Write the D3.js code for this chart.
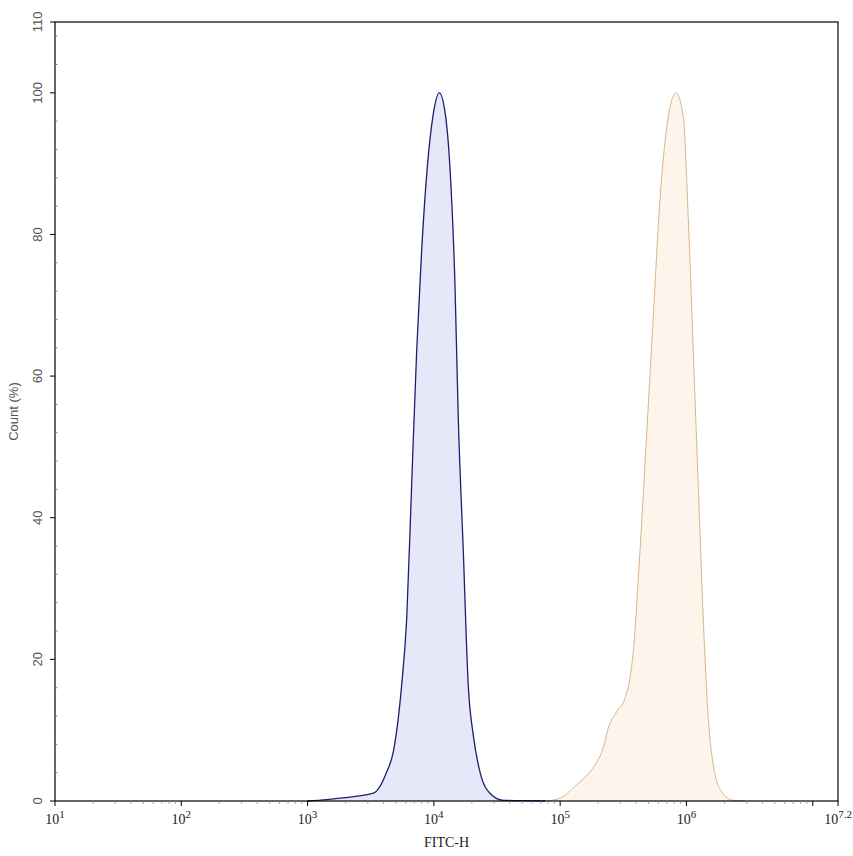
<!DOCTYPE html>
<html lang="en">
<head>
    <meta charset="UTF-8">
    <title>FITC-H Histogram</title>
    <script src="https://d3js.org/d3.v7.min.js"></script>
    <style>
        body {
            margin: 0;
            background: #fff;
        }
        svg {
            display: block;
        }
        .ylab {
            font-family: "Liberation Sans", Arial, sans-serif;
            font-size: 13px;
            fill: #555;
        }
        .xlab {
            font-family: "Liberation Serif", "Times New Roman", serif;
            font-size: 14px;
            fill: #222;
        }
    </style>
</head>
<body>
    <svg id="chart" width="853" height="856"></svg>

    <script>
        // Histogram outlines (FITC-H intensity, count %)
        const blueX = [1000, 1410, 1810, 3310, 4230, 4780, 5560, 6100, 6670, 7310, 8000, 8870, 9890,
                       11040, 12250, 13400, 14690, 15600, 17100, 18710, 20510, 23170, 27800, 35400, 47900, 75900];
        const blueY = [0, 0.2, 0.4, 1.1, 4.1, 7.0, 16.4, 25.9, 44.7, 63.6, 77.7, 89.5, 97.0,
                       100, 97.3, 89.5, 73.0, 54.2, 35.3, 16.4, 9.3, 4.1, 1.1, 0.1, 0.05, 0];

        const orangeX = [75900, 99500, 135200, 172200, 188800, 219300, 240400, 279900, 325800, 357300,
                         379300, 428500, 484200, 545800, 616600, 717800, 826000, 944100, 1033000,
                         1132000, 1239000, 1358000, 1489000, 1629000, 1901000, 2344000, 2904000];
        const orangeY = [0, 0.4, 2.3, 4.1, 5.1, 7.5, 10.3, 12.6, 14.5, 17.4,
                         21.1, 35.3, 51.8, 68.3, 84.8, 96.6, 100, 96.6, 82.4,
                         63.6, 44.7, 25.8, 11.7, 5.1, 1.3, 0.1, 0];

        const xTickExp = [1, 2, 3, 4, 5, 6, 7, 7.2];
        const xLabelExp = [1, 2, 3, 4, 5, 6, 7.2];
        const yTicks = [0, 20, 40, 60, 80, 100, 110];

        const width = 853, height = 856;
        const margin = { top: 22, right: 15, bottom: 55, left: 55 };
        const svg = d3.select("#chart");

        const x = d3.scaleLog()
            .domain([Math.pow(10, 1), Math.pow(10, 7.2)])
            .range([margin.left, width - margin.right]);
        const y = d3.scaleLinear()
            .domain([0, 110])
            .range([height - margin.bottom, margin.top]);

        // Curves
        const area = d3.area()
            .x(d => x(d[0]))
            .y0(y(0))
            .y1(d => y(d[1]))
            .curve(d3.curveMonotoneX);
        const line = d3.line()
            .x(d => x(d[0]))
            .y(d => y(d[1]))
            .curve(d3.curveMonotoneX);

        const series = [
            { pts: d3.zip(blueX, blueY), fill: "#e7e7fa", stroke: "#1e1e6e", sw: 1.3 },
            { pts: d3.zip(orangeX, orangeY), fill: "#fdf5ec", stroke: "#d8b58c", sw: 1 }
        ];

        series.forEach(s => {
            svg.append("path")
                .datum(s.pts)
                .attr("d", area)
                .attr("fill", s.fill);
            svg.append("path")
                .datum(s.pts)
                .attr("d", line)
                .attr("fill", "none")
                .attr("stroke", s.stroke)
                .attr("stroke-width", s.sw);
        });

        // Frame
        svg.append("rect")
            .attr("x", margin.left)
            .attr("y", margin.top)
            .attr("width", width - margin.left - margin.right)
            .attr("height", height - margin.top - margin.bottom)
            .attr("fill", "none")
            .attr("stroke", "#000")
            .attr("stroke-width", 1.2);

        // Minor ticks
        const minorX = [];
        for (let e = 1; e < 8; e++) {
            for (let m = 2; m <= 9; m++) {
                const v = m * Math.pow(10, e);
                if (v < x.domain()[1]) minorX.push(v);
            }
        }
        svg.selectAll(".xminor")
            .data(minorX)
            .enter()
            .append("line")
            .attr("x1", d => x(d))
            .attr("x2", d => x(d))
            .attr("y1", y(0))
            .attr("y2", y(0) + 2.5)
            .attr("stroke", "#888");

        svg.selectAll(".yminor")
            .data(d3.range(4, 110, 4).filter(d => d % 20 !== 0))
            .enter()
            .append("line")
            .attr("x1", margin.left)
            .attr("x2", margin.left + 2.5)
            .attr("y1", d => y(d))
            .attr("y2", d => y(d))
            .attr("stroke", "#888");

        // Major x ticks and labels
        svg.selectAll(".xt")
            .data(xTickExp)
            .enter()
            .append("line")
            .attr("x1", d => x(Math.pow(10, d)))
            .attr("x2", d => x(Math.pow(10, d)))
            .attr("y1", y(0))
            .attr("y2", y(0) + 5)
            .attr("stroke", "#000");

        const xl = svg.selectAll(".xl")
            .data(xLabelExp)
            .enter()
            .append("text")
            .attr("class", "xlab")
            .attr("x", d => x(Math.pow(10, d)))
            .attr("y", y(0) + 23)
            .attr("text-anchor", "middle");
        xl.append("tspan").text("10");
        xl.append("tspan")
            .attr("dy", -6)
            .attr("font-size", 11)
            .text(d => d);

        // Major y ticks and labels
        const yt = svg.selectAll(".yt")
            .data(yTicks)
            .enter()
            .append("g")
            .attr("transform", d => `translate(${margin.left},${y(d)})`);
        yt.append("line")
            .attr("x2", -5)
            .attr("stroke", "#000");
        yt.append("text")
            .attr("class", "ylab")
            .attr("transform", "translate(-13,0) rotate(-90)")
            .attr("text-anchor", "middle")
            .text(d => d);

        // Axis titles
        svg.append("text")
            .attr("class", "xlab")
            .attr("x", (margin.left + width - margin.right) / 2)
            .attr("y", 847)
            .attr("text-anchor", "middle")
            .text("FITC-H");

        svg.append("text")
            .attr("class", "ylab")
            .attr("transform", `translate(18,${(margin.top + height - margin.bottom) / 2}) rotate(-90)`)
            .attr("text-anchor", "middle")
            .text("Count (%)");
    </script>
</body>
</html>
